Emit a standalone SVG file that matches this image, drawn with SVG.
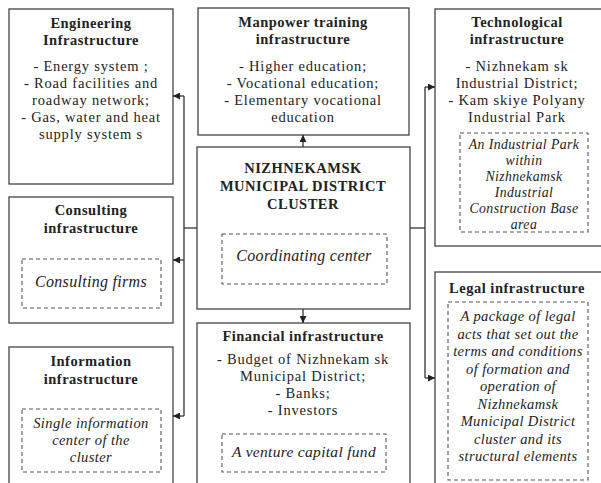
<svg xmlns="http://www.w3.org/2000/svg" width="601" height="483" viewBox="0 0 601 483">
<defs>
<marker id="ah" viewBox="0 0 10 10" refX="10" refY="5" markerWidth="7" markerHeight="7" markerUnits="userSpaceOnUse" orient="auto">
<path d="M0,0 L10,5 L0,10 z" fill="#222"/>
</marker>
</defs>
<style>
.box{fill:#fff;stroke:#444;stroke-width:1.3}
.dash{fill:none;stroke:#555;stroke-width:1.1;stroke-dasharray:4 3}
.t{font-family:"Liberation Serif","Times New Roman",serif;font-size:14.5px;letter-spacing:0.5px;font-weight:bold;fill:#222;text-anchor:middle}
.b{font-family:"Liberation Serif","Times New Roman",serif;font-size:14.5px;letter-spacing:0.8px;fill:#222;text-anchor:middle}
.i{font-family:"Liberation Serif","Times New Roman",serif;font-size:13.8px;letter-spacing:0.4px;font-style:italic;fill:#222;text-anchor:middle}
.c{fill:none;stroke:#333;stroke-width:1.3}
</style>
<rect width="601" height="483" fill="#fff"/>

<g id="engineering">
<rect class="box" x="9" y="9" width="164" height="175"/>
<text class="t" x="91" y="28">Engineering</text>
<text class="t" x="91" y="45">Infrastructure</text>
<text class="b" x="91" y="71">- Energy system ;</text>
<text class="b" x="91" y="88">- Road facilities and</text>
<text class="b" x="91" y="105">roadway network;</text>
<text class="b" x="91" y="122">- Gas, water and heat</text>
<text class="b" x="91" y="139">supply system s</text>
</g>

<g id="manpower">
<rect class="box" x="198" y="8" width="211" height="127"/>
<text class="t" x="303" y="27">Manpower training</text>
<text class="t" x="303" y="44">infrastructure</text>
<text class="b" x="303" y="71">- Higher education;</text>
<text class="b" x="303" y="88">- Vocational education;</text>
<text class="b" x="303" y="105">- Elementary vocational</text>
<text class="b" x="303" y="122">education</text>
</g>

<g id="technological">
<rect class="box" x="435" y="9" width="170" height="237"/>
<text class="t" x="517" y="27">Technological</text>
<text class="t" x="517" y="44">infrastructure</text>
<text class="b" x="517" y="71">- Nizhnekam sk</text>
<text class="b" x="517" y="88">Industrial District;</text>
<text class="b" x="517" y="105">- Kam skiye Polyany</text>
<text class="b" x="517" y="122">Industrial Park</text>
<rect class="dash" x="460" y="133" width="128" height="99"/>
<text class="i" x="524" y="149">An Industrial Park</text>
<text class="i" x="524" y="165">within</text>
<text class="i" x="524" y="181">Nizhnekamsk</text>
<text class="i" x="524" y="197">Industrial</text>
<text class="i" x="524" y="213">Construction Base</text>
<text class="i" x="524" y="229">area</text>
</g>

<g id="consulting">
<rect class="box" x="9" y="197" width="164" height="126"/>
<text class="t" x="91" y="215">Consulting</text>
<text class="t" x="91" y="233">infrastructure</text>
<rect class="dash" x="22" y="259" width="139" height="49"/>
<text class="i" x="91" y="287" style="font-size:16px;letter-spacing:0.3px">Consulting firms</text>
</g>

<g id="cluster">
<rect class="box" x="197" y="147" width="213" height="162"/>
<text class="t" x="303" y="173">NIZHNEKAMSK</text>
<text class="t" x="303" y="191">MUNICIPAL DISTRICT</text>
<text class="t" x="303" y="209">CLUSTER</text>
<rect class="dash" x="222" y="234" width="165" height="50"/>
<text class="i" x="304" y="261" style="font-size:16px;letter-spacing:0.3px">Coordinating center</text>
</g>

<g id="information">
<rect class="box" x="9" y="347" width="164" height="145"/>
<text class="t" x="91" y="366">Information</text>
<text class="t" x="91" y="384">infrastructure</text>
<rect class="dash" x="22" y="409" width="139" height="63"/>
<text class="i" x="91" y="428" style="font-size:14.5px">Single information</text>
<text class="i" x="91" y="445" style="font-size:14.5px">center of the</text>
<text class="i" x="91" y="462" style="font-size:14.5px">cluster</text>
</g>

<g id="financial">
<rect class="box" x="197" y="323" width="213" height="170"/>
<text class="t" x="303" y="341">Financial infrastructure</text>
<text class="b" x="303" y="364">- Budget of Nizhnekam sk</text>
<text class="b" x="303" y="381">Municipal District;</text>
<text class="b" x="303" y="398">- Banks;</text>
<text class="b" x="303" y="415">- Investors</text>
<rect class="dash" x="222" y="434" width="164" height="38"/>
<text class="i" x="304" y="457" style="font-size:15.5px;letter-spacing:0.3px">A venture capital fund</text>
</g>

<g id="legal">
<rect class="box" x="435" y="272" width="170" height="220"/>
<text class="t" x="517" y="293">Legal infrastructure</text>
<rect class="dash" x="448" y="302" width="140" height="178"/>
<text class="i" x="518" y="321" style="font-size:14.5px">A package of legal</text>
<text class="i" x="518" y="339" style="font-size:14.5px">acts that set out the</text>
<text class="i" x="518" y="356" style="font-size:14.5px">terms and conditions</text>
<text class="i" x="518" y="374" style="font-size:14.5px">of formation and</text>
<text class="i" x="518" y="391" style="font-size:14.5px">operation of</text>
<text class="i" x="518" y="409" style="font-size:14.5px">Nizhnekamsk</text>
<text class="i" x="518" y="426" style="font-size:14.5px">Municipal District</text>
<text class="i" x="518" y="444" style="font-size:14.5px">cluster and its</text>
<text class="i" x="518" y="461" style="font-size:14.5px">structural elements</text>
</g>

<g id="connectors">
<path class="c" d="M303,147 V135" marker-end="url(#ah)"/>
<path class="c" d="M303,309 V323" marker-end="url(#ah)"/>
<path class="c" d="M197,228 H184"/>
<path class="c" d="M184,96 V416"/>
<path class="c" d="M184,96 H173" marker-end="url(#ah)"/>
<path class="c" d="M184,260 H173" marker-end="url(#ah)"/>
<path class="c" d="M184,416 H173" marker-end="url(#ah)"/>
<path class="c" d="M410,228 H425"/>
<path class="c" d="M425,87 V378"/>
<path class="c" d="M425,87 H435" marker-end="url(#ah)"/>
<path class="c" d="M425,378 H435" marker-end="url(#ah)"/>
</g>
</svg>
